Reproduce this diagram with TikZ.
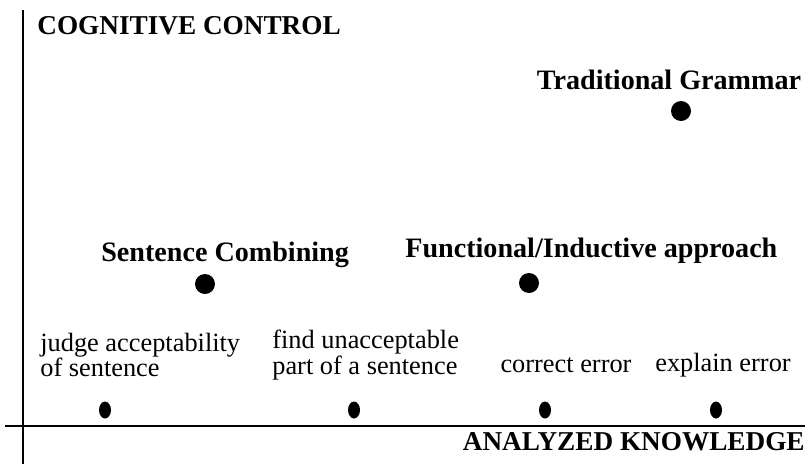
\documentclass[tikz,border=0pt]{standalone}
\usepackage{fontspec}
\setmainfont{Liberation Serif}
\usetikzlibrary{shapes.geometric}

\tikzset{
  axislabel/.style={font=\bfseries\fontsize{15.5}{18}\selectfont, inner sep=0pt},
  method/.style={font=\bfseries\fontsize{16}{18}\selectfont, inner sep=0pt},
  task/.style={font=\fontsize{15}{14.5}\selectfont, align=left, inner sep=0pt},
  bigdot/.style={circle, fill=black, minimum size=0.4cm, inner sep=0pt},
  smalldot/.style={ellipse, fill=black, minimum width=0.24cm, minimum height=0.34cm, inner sep=0pt}
}

\begin{document}
\begin{tikzpicture}[x=0.02cm,y=-0.02cm]
  \useasboundingbox (0,0) rectangle (812,464);

  % axes
  \draw[line width=0.9pt] (23,10) -- (23,464); % cognitive control
  \draw[line width=0.9pt] (5,426) -- (805,426); % analyzed knowledge
  \node[axislabel, anchor=west] (cc) at (37,26) {COGNITIVE CONTROL};
  \node[axislabel, anchor=east] (ak) at (805,442) {ANALYZED KNOWLEDGE};

  % approaches
  \node[method] (tglab) at (669,80) {Traditional Grammar};
  \node[bigdot] (tg) at (681,111) {};
  \node[method, anchor=west] (sclab) at (101,255) {Sentence Combining};
  \node[bigdot] (sc) at (205,284) {};
  \node[method, anchor=west] (filab) at (405,251) {Functional/Inductive approach};
  \node[bigdot] (fi) at (529,283) {};

  % tasks
  \node[task, anchor=west] (judge) at (40,355) {judge acceptability\\of sentence};
  \node[task, anchor=west] (find) at (272,355) {find unacceptable\\part of a sentence};
  \node[task] (correct) at (566,365) {correct error};
  \node[task] (explain) at (723,365) {explain error};
  \node[smalldot] (d1) at (105,410) {};
  \node[smalldot] (d2) at (354,410) {};
  \node[smalldot] (d3) at (545,410) {};
  \node[smalldot] (d4) at (716,410) {};
\end{tikzpicture}
\end{document}
